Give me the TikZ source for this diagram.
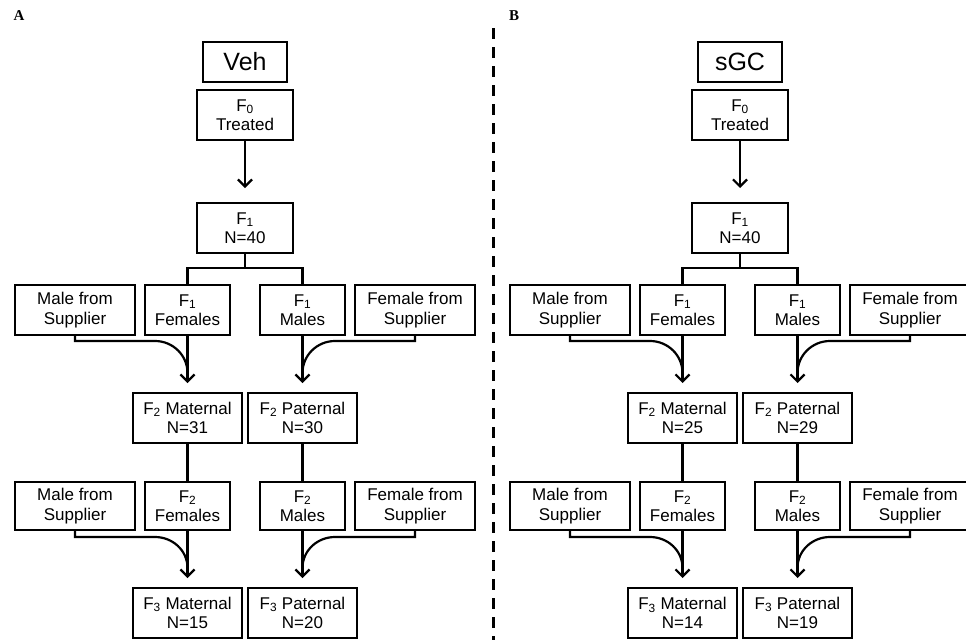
\documentclass[tikz,border=0pt]{standalone}
\usepackage{fontspec}
\setmainfont{Liberation Sans}
\newfontfamily\panelfont{Liberation Serif}
\usetikzlibrary{arrows.meta}

\tikzset{
  box/.style={draw, line width=2.2pt, align=center, inner sep=0pt,
    minimum height=50pt, font=\fontsize{17}{19.5}\selectfont},
  link/.style={line width=2.2pt},
  feed/.style={line width=2.2pt, -{Straight Barb[length=7pt,width=14pt]}}
}

\begin{document}
\begin{tikzpicture}[x=1pt,y=-1pt]
    \useasboundingbox (0,0) rectangle (966,640);

    % panel divider
    \draw[line width=3pt, dash pattern=on 11pt off 8pt] (493,28) -- (493,640);

    \foreach \dx/\grp/\pn/\ma/\pa/\mb/\pb in {0/Veh/A/31/30/15/20, 495/sGC/B/25/29/14/19} {
    \begin{scope}[xshift=\dx pt]
        \node[font=\panelfont\bfseries\fontsize{15}{15}\selectfont] (lab\pn) at (19,16) {\pn};

        \node[box, minimum width=84pt, minimum height=40pt, font=\fontsize{25}{28}\selectfont] (grp\pn) at (245,62) {\grp};
        \node[box, minimum width=96pt] (fzero\pn) at (245,115) {F\textsubscript{0}\\Treated};
        \node[box, minimum width=96pt] (fone\pn) at (245,228) {F\textsubscript{1}\\N=40};

        % first cross
        \node[box, minimum width=120pt] (msa\pn) at (75,310) {Male from\\Supplier};
        \node[box, minimum width=85pt] (ffa\pn) at (187.5,310) {F\textsubscript{1}\\Females};
        \node[box, minimum width=85pt] (fma\pn) at (302.5,310) {F\textsubscript{1}\\Males};
        \node[box, minimum width=120pt] (fsa\pn) at (415,310) {Female from\\Supplier};

        \node[box, minimum width=109pt] (mattwo\pn) at (187.5,418) {F\textsubscript{2} Maternal\\N=\ma};
        \node[box, minimum width=109pt] (pattwo\pn) at (302.5,418) {F\textsubscript{2} Paternal\\N=\pa};

        % second cross
        \node[box, minimum width=120pt, minimum height=48pt] (msb\pn) at (75,506) {Male from\\Supplier};
        \node[box, minimum width=85pt, minimum height=48pt] (ffb\pn) at (187.5,506) {F\textsubscript{2}\\Females};
        \node[box, minimum width=85pt, minimum height=48pt] (fmb\pn) at (302.5,506) {F\textsubscript{2}\\Males};
        \node[box, minimum width=120pt, minimum height=48pt] (fsb\pn) at (415,506) {Female from\\Supplier};

        \node[box, minimum width=109pt] (matthree\pn) at (187.5,613) {F\textsubscript{3} Maternal\\N=\mb};
        \node[box, minimum width=109pt] (patthree\pn) at (302.5,613) {F\textsubscript{3} Paternal\\N=\pb};

        \coordinate (tipone\pn) at (245,188);
        \coordinate (split\pn) at (245,268);
        \coordinate (tipma\pn) at (187.5,383);
        \coordinate (tippa\pn) at (302.5,383);
        \coordinate (tipmb\pn) at (187.5,578);
        \coordinate (tippb\pn) at (302.5,578);

        \draw[feed] (fzero\pn) -- (tipone\pn);
        \draw[link] (fone\pn) -- (split\pn);
        \draw[link] (ffa\pn) |- (split\pn) -| (fma\pn);

        \draw[feed] (ffa\pn) -- (tipma\pn);
        \draw[feed] (fma\pn) -- (tippa\pn);
        \draw[link] (msa\pn) |- (155,341) to[out=0,in=90] (187.5,373);
        \draw[link] (fsa\pn) |- (335,341) to[out=180,in=90] (302.5,373);

        \draw[link] (mattwo\pn) -- (ffb\pn);
        \draw[link] (pattwo\pn) -- (fmb\pn);

        \draw[feed] (ffb\pn) -- (tipmb\pn);
        \draw[feed] (fmb\pn) -- (tippb\pn);
        \draw[link] (msb\pn) |- (155,537) to[out=0,in=90] (187.5,568);
        \draw[link] (fsb\pn) |- (335,537) to[out=180,in=90] (302.5,568);
    \end{scope}
    }
\end{tikzpicture}
\end{document}
